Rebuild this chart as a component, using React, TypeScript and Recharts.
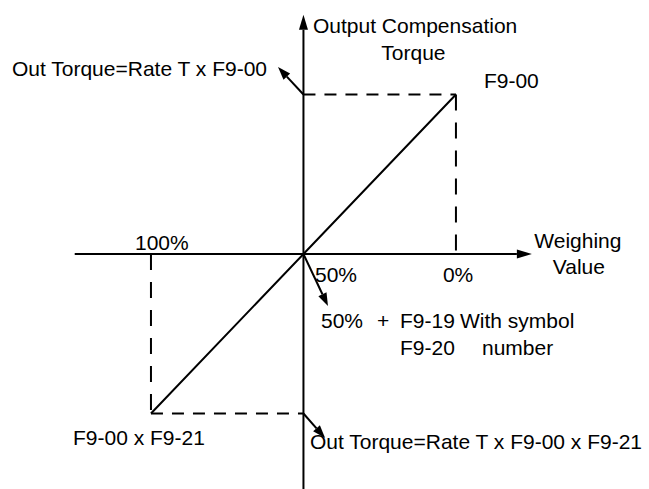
import React from "react";
import {
  ComposedChart,
  Line,
  XAxis,
  YAxis,
  ReferenceLine,
  ReferenceDot,
} from "recharts";

// weighing value (%) runs right-to-left, torque is normalised to F9-00 = 1
const weighDomain = [-63.3, 149.5];
const torqueDomain = [-1.4733, 1.5925];

const xAxisLine = [
  { w: 125, t: 0 },
  { w: -24.9, t: 0 },
];
const yAxisLine = [
  { w: 50, t: -1.4733 },
  { w: 50, t: 1.5 },
];

const torqueLine = [
  { w: 100, t: -1 },
  { w: 50, t: 0 },
  { w: 0, t: 1 },
];

// dashed projections of the two end points
const upperGuideH = [
  { w: 50, t: 1 },
  { w: 0, t: 1 },
];
const upperGuideV = [
  { w: 0, t: 1 },
  { w: 0, t: 0 },
];
const lowerGuideV = [
  { w: 100, t: 0 },
  { w: 100, t: -1 },
];
const lowerGuideH = [
  { w: 100, t: -1 },
  { w: 50, t: -1 },
];

const callouts = [
  { from: { w: 50, t: 1 }, to: { w: 58.35, t: 1.172 } },
  { from: { w: 50, t: 0 }, to: { w: 41.96, t: -0.326 } },
  { from: { w: 50, t: -1 }, to: { w: 42.9, t: -1.154 } },
];

const labels = [
  { text: "Output Compensation", w: 50, t: 1.5, dx: 9.5, dy: 18, anchor: "start" },
  { text: "Torque", w: 50, t: 1.5, dx: 110, dy: 45, anchor: "middle" },
  { text: "Out Torque=Rate T x F9-00", w: 50, t: 1, dx: -291.5, dy: -18.5, anchor: "start" },
  { text: "F9-00", w: 0, t: 1, dx: 28, dy: -6.5, anchor: "start" },
  { text: "100%", w: 100, t: 0, dx: -16, dy: -4, anchor: "start" },
  { text: "50%", w: 50, t: 0, dx: 11.5, dy: 28, anchor: "start" },
  { text: "0%", w: 0, t: 0, dx: -13, dy: 28, anchor: "start" },
  { text: "Weighing", w: -24.9, t: 0, dx: 46, dy: -6, anchor: "middle" },
  { text: "Value", w: -24.9, t: 0, dx: 47, dy: 20, anchor: "middle" },
  { text: "50%", w: 50, t: 0, dx: 17.5, dy: 74, anchor: "start" },
  { text: "+", w: 50, t: 0, dx: 73.5, dy: 74, anchor: "start" },
  { text: "F9-19", w: 50, t: 0, dx: 96.5, dy: 74, anchor: "start" },
  { text: "With symbol", w: 50, t: 0, dx: 156.5, dy: 74, anchor: "start" },
  { text: "F9-20", w: 50, t: 0, dx: 96.5, dy: 101, anchor: "start" },
  { text: "number", w: 50, t: 0, dx: 178.5, dy: 101, anchor: "start" },
  { text: "F9-00 x F9-21", w: 100, t: -1, dx: -78, dy: 31.5, anchor: "start" },
  { text: "Out Torque=Rate T x F9-00 x F9-21", w: 50, t: -1, dx: 6.5, dy: 35.5, anchor: "start" },
];

const FONT = "'Liberation Sans', Arial, sans-serif";

const arrowShape = (headLen: number, half: number) => (props: any) => {
  const { x1, y1, x2, y2 } = props;
  const a = Math.atan2(y2 - y1, x2 - x1);
  const bx = x2 - headLen * Math.cos(a);
  const by = y2 - headLen * Math.sin(a);
  const px = -Math.sin(a) * half;
  const py = Math.cos(a) * half;
  return (
    <g>
      <line x1={x1} y1={y1} x2={bx} y2={by} stroke="#000" strokeWidth={2} />
      <polygon
        points={`${x2},${y2} ${bx + px},${by + py} ${bx - px},${by - py}`}
        fill="#000"
      />
    </g>
  );
};

const guides = [
  { data: upperGuideH, dash: "12 9" },
  { data: upperGuideV, dash: "16 12" },
  { data: lowerGuideV, dash: "16 12" },
  { data: lowerGuideH, dash: "12 9" },
];

const App: React.FC = () => {
  return (
    <div
      style={{
        position: "absolute",
        left: 0,
        top: 0,
        width: 649,
        height: 489,
        background: "#fff",
      }}
    >
      <ComposedChart
        width={649}
        height={489}
        margin={{ top: 0, right: 0, bottom: 0, left: 0 }}
      >
        <XAxis
          type="number"
          dataKey="w"
          domain={weighDomain}
          allowDataOverflow
          reversed
          hide
        />
        <YAxis type="number" domain={torqueDomain} allowDataOverflow hide />

        {guides.map((g, i) => (
          <Line
            key={`g${i}`}
            data={g.data}
            dataKey="t"
            stroke="#000"
            strokeWidth={2}
            strokeDasharray={g.dash}
            dot={false}
            activeDot={false}
            isAnimationActive={false}
          />
        ))}
        <Line
          data={torqueLine}
          dataKey="t"
          stroke="#000"
          strokeWidth={2}
          dot={false}
          activeDot={false}
          isAnimationActive={false}
        />

        <ReferenceLine
          segment={xAxisLine.map((p) => ({ x: p.w, y: p.t }))}
          shape={arrowShape(15, 4.5)}
        />
        <ReferenceLine
          segment={yAxisLine.map((p) => ({ x: p.w, y: p.t }))}
          shape={arrowShape(15, 4.5)}
        />
        {callouts.map((c, i) => (
          <ReferenceLine
            key={`c${i}`}
            segment={[
              { x: c.from.w, y: c.from.t },
              { x: c.to.w, y: c.to.t },
            ]}
            shape={arrowShape(13, 4.5)}
          />
        ))}

        {labels.map((l, i) => (
          <ReferenceDot
            key={`l${i}`}
            x={l.w}
            y={l.t}
            r={0}
            fill="none"
            stroke="none"
            shape={(p: any) => (
              <text
                x={p.cx + l.dx}
                y={p.cy + l.dy}
                textAnchor={l.anchor}
                fontFamily={FONT}
                fontSize={21}
                fill="#000"
              >
                {l.text}
              </text>
            )}
          />
        ))}
      </ComposedChart>
    </div>
  );
};

export default App;
